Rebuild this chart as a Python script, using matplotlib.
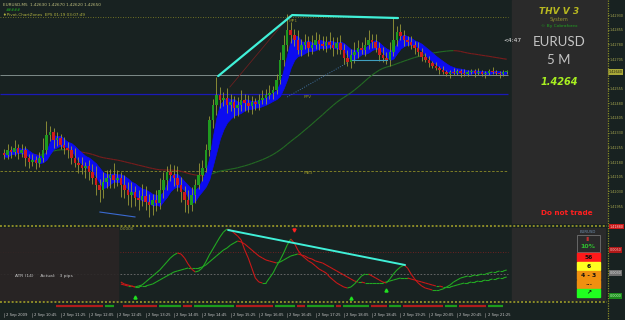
import numpy as np
import pandas as pd
import matplotlib
matplotlib.use("Agg")
import matplotlib.pyplot as plt
from matplotlib.patches import Rectangle
from matplotlib.collections import LineCollection

# ---------------- data ----------------
closes = [1.42217, 1.42242, 1.42232, 1.42252, 1.42227, 1.42242, 1.42201, 1.42181, 1.42191, 1.42176, 1.42201, 1.42242,
          1.42318, 1.42334, 1.42293, 1.42303, 1.42267, 1.42252, 1.42242, 1.42201, 1.42176, 1.42165, 1.42150, 1.42160,
          1.42130, 1.42099, 1.42063, 1.42038, 1.42079, 1.42099, 1.42114, 1.42089, 1.42099, 1.42063, 1.42038, 1.42012,
          1.42028, 1.41997, 1.41987, 1.42007, 1.41977, 1.41961, 1.41987, 1.41972, 1.42038, 1.42089, 1.42130, 1.42114,
          1.42099, 1.42063, 1.42028, 1.41987, 1.41961, 1.42012, 1.42063, 1.42114, 1.42150, 1.42242, 1.42395, 1.42471,
          1.42522, 1.42497, 1.42507, 1.42471, 1.42487, 1.42456, 1.42471, 1.42497, 1.42482, 1.42466, 1.42487, 1.42477,
          1.42497, 1.42507, 1.42522, 1.42533, 1.42548, 1.42599, 1.42701, 1.42777, 1.42854, 1.42829, 1.42803, 1.42752,
          1.42777, 1.42793, 1.42762, 1.42777, 1.42803, 1.42783, 1.42772, 1.42793, 1.42777, 1.42762, 1.42788, 1.42752,
          1.42711, 1.42691, 1.42727, 1.42742, 1.42762, 1.42752, 1.42777, 1.42803, 1.42793, 1.42762, 1.42727, 1.42711,
          1.42701, 1.42742, 1.42803, 1.42844, 1.42823, 1.42803, 1.42793, 1.42777, 1.42762, 1.42742, 1.42716, 1.42701,
          1.42686, 1.42670, 1.42660, 1.42650, 1.42640, 1.42630, 1.42640, 1.42635, 1.42645, 1.42635, 1.42630, 1.42640,
          1.42645, 1.42635, 1.42640, 1.42630, 1.42635, 1.42645, 1.42640, 1.42635, 1.42630, 1.42640, 1.42640]
first_open = 1.42227
wick_up_pips = [2, 3, 2, 4, 2, 3, 2, 2, 3, 2, 3, 6,
                7, 3, 2, 3, 2, 4, 3, 2, 5, 3, 4, 2,
                3, 4, 6, 3, 5, 4, 3, 6, 4, 3, 5, 4,
                5, 3, 4, 6, 5, 4, 3, 5, 6, 4, 3, 4,
                5, 6, 4, 3, 5, 4, 3, 6, 4, 3, 2, 3,
                9, 4, 3, 5, 4, 3, 4, 5, 3, 4, 3, 2,
                3, 4, 3, 4, 2, 3, 4, 5, 8, 4, 3, 5,
                3, 4, 3, 5, 4, 3, 4, 3, 5, 4, 3, 4,
                3, 4, 3, 5, 4, 3, 4, 5, 3, 4, 3, 4,
                3, 5, 11, 3, 4, 3, 2, 3, 2, 3, 2, 2,
                2, 1, 2, 1, 2, 1, 1, 2, 1, 1, 2, 1,
                1, 1, 2, 1, 1, 1, 2, 1, 1, 1, 1]
wick_dn_pips = [2, 2, 3, 2, 3, 2, 4, 3, 2, 3, 2, 2,
                2, 3, 4, 3, 2, 3, 4, 3, 2, 4, 3, 5,
                4, 3, 5, 6, 4, 3, 5, 4, 3, 6, 4, 5,
                6, 4, 5, 3, 4, 6, 5, 4, 3, 4, 5, 3,
                4, 3, 5, 6, 4, 3, 4, 2, 3, 2, 3, 4,
                5, 4, 3, 4, 3, 5, 4, 3, 4, 3, 4, 3,
                3, 2, 3, 2, 3, 2, 2, 3, 3, 4, 3, 2,
                3, 2, 4, 3, 2, 3, 2, 3, 2, 4, 3, 2,
                3, 2, 3, 4, 3, 2, 3, 2, 3, 2, 3, 2,
                2, 3, 2, 3, 2, 3, 2, 2, 3, 2, 2, 1,
                2, 1, 1, 2, 1, 1, 2, 1, 1, 2, 1, 1,
                1, 2, 1, 1, 2, 1, 1, 1, 2, 1, 1]

price_ticks = [1.42930, 1.42855, 1.42780, 1.42705, 1.42555, 1.42480, 1.42405, 1.42330,
               1.42255, 1.42180, 1.42105, 1.42030, 1.41955]
last_price = 1.42640
level_mp1 = 1.42920
level_grey = 1.42624
level_fpv = 1.42527
level_mb3 = 1.42135

trend_main_x = [60.5, 81.4, 111.3]
trend_main_y = [1.42619, 1.42930, 1.42915]
trend_red_x = [63.8, 80.8]
trend_red_y = [1.42563, 1.42930]
trend_blue_low_x = [27.1, 37.0]
trend_blue_low_y = [1.41925, 1.41900]
trend_dot_x = [80.0, 96.9]
trend_dot_y = [1.42512, 1.42686]
trend_hline_x = [98.3, 108.2]
trend_hline_y = [1.42701, 1.42701]

osc_start = 33
osc_fast = [19, 17, 16, 15, 14, 15, 16, 19, 22, 25,
            28, 31, 35, 39, 43, 46, 48, 47, 43, 37,
            32, 29, 30, 33, 39, 46, 52, 58, 64, 69,
            72, 71, 68, 65, 61, 51, 43, 33, 23, 19,
            18, 18, 23, 28, 35, 41, 48, 56, 62, 58,
            51, 46, 43, 40, 38, 35, 32, 30, 28, 24,
            21, 18, 16, 14, 13, 14, 17, 21, 25, 27,
            27, 25, 23, 21, 19, 18, 22, 27, 31, 34,
            36, 33, 27, 22, 18, 15, 13, 12, 11, 11,
            11, 12, 14, 16, 19, 21, 23, 24, 25, 25,
            26, 26, 27, 27, 28, 29, 29, 30, 30, 31]
osc_slow = [17, 16, 15, 15, 14, 14, 15, 15, 16, 17,
            19, 21, 23, 25, 27, 29, 30, 31, 32, 33,
            33, 33, 33, 34, 36, 39, 42, 45, 48, 51,
            53, 56, 58, 60, 59, 57, 54, 51, 48, 45,
            43, 41, 40, 39, 38, 39, 41, 43, 45, 46,
            47, 46, 45, 43, 42, 40, 39, 38, 36, 34,
            32, 30, 28, 26, 24, 22, 20, 19, 19, 18,
            18, 18, 18, 18, 18, 19, 20, 21, 22, 23,
            23, 23, 22, 21, 20, 19, 18, 17, 16, 15,
            15, 14, 14, 14, 15, 16, 17, 18, 18, 19,
            19, 20, 20, 21, 21, 22, 22, 23, 23, 24]
osc_level_hi = 49
osc_level_lo = 27
osc_trend_x = [63.3, 113.3]
osc_trend_y = [71, 36]
arrow_up_x = [37, 98, 108]
arrow_up_y = [4, 3, 11]
arrow_dn_x = [82]
arrow_dn_y = [71]

strip_signal = ([0] * 15 + [-1] * 14 + [1] * 3 + [0] * 2 + [-1] * 10 + [1] * 7 + [-1] * 3 + [1] * 12 +
                [-1] * 11 + [1] * 6 + [-1] * 3 + [1] * 8 + [-1] * 2 + [1] * 8 + [-1] * 5 + [1] * 4 +
                [-1] * 12 + [1] * 4 + [-1] * 8 + [1] * 5 + [0] * 1)

time_tick_bars = [0, 8, 16, 24, 32, 40, 48, 56, 64, 72, 80, 88, 96, 104, 112, 120, 128, 136]
time_labels = ["2 Sep 2009", "2 Sep 10:45", "2 Sep 11:25", "2 Sep 12:05", "2 Sep 12:45", "2 Sep 13:25",
               "2 Sep 14:05", "2 Sep 14:45", "2 Sep 15:25", "2 Sep 16:05", "2 Sep 16:45", "2 Sep 17:25",
               "2 Sep 18:05", "2 Sep 18:45", "2 Sep 19:25", "2 Sep 20:05", "2 Sep 20:45", "2 Sep 21:25"]

# ---------------- style ----------------
BG = "#182221"
PANEL = "#2a2a2a"
OLIVE = "#8c8c28"
LABEL = "#a8a850"
GREEN = "#1f9a1f"
RED = "#d01c1c"
WICK = "#9a9a38"
W, H = 625, 320
FONT = "DejaVu Sans"

fig = plt.figure(figsize=(6.25, 3.2), dpi=100)
fig.patch.set_facecolor(BG)

def rect(px0, py0, px1, py1):
    return [px0 / W, 1 - py1 / H, (px1 - px0) / W, (py1 - py0) / H]

XL = (-1.13, 170.34)

# ---------------- main chart ----------------
ax = fig.add_axes(rect(0, 0, 607, 224))
ax.set_facecolor(BG)
ax.set_xlim(*XL)
ax.set_ylim(1.41864, 1.43007)
for s in ax.spines.values():
    s.set_visible(False)
ax.set_xticks([])
ax.yaxis.tick_right()
ax.set_yticks(price_ticks)
ax.set_yticklabels([f"{v:.5f}" for v in price_ticks])
ax.tick_params(axis="y", labelsize=2.4, colors=LABEL, length=1.2, width=0.5, pad=0.8)

c = np.array(closes)
n = len(c)
idx = np.arange(n)
o = np.r_[first_open, c[:-1]]
hi = np.maximum(o, c) + np.array(wick_up_pips) * 1e-4
lo = np.minimum(o, c) - np.array(wick_dn_pips) * 1e-4

# levels
ax.hlines(level_mp1, XL[0], 142.5, color=OLIVE, lw=0.6, linestyles=(0, (1, 2)), zorder=1)
ax.hlines(level_grey, XL[0], 142.5, color="#7e8c8a", lw=0.7, zorder=1)
ax.hlines(level_fpv, XL[0], 142.5, color="#1a1ab8", lw=0.9, zorder=1)
ax.hlines(level_mb3, XL[0], 142.5, color=OLIVE, lw=0.6, linestyles=(0, (3, 2)), zorder=1)

# slow MA coloured by slope
ma = pd.Series(c).rolling(50, min_periods=1).mean().to_numpy()
segs = [[(i - 1, ma[i - 1]), (i, ma[i])] for i in range(1, n)]
cols = ["#236b23" if ma[i] >= ma[i - 1] else "#7a1c1c" for i in range(1, n)]
ax.add_collection(LineCollection(segs, colors=cols, lw=0.8, zorder=2))

# blue band: fast / slow smoothing of the closes, widened a little by the bar range
e_fast = pd.Series(c).ewm(span=3).mean().shift(1).bfill().to_numpy()
e_slow = pd.Series(c).ewm(span=7).mean().shift(1).bfill().to_numpy()
pad = pd.Series(hi - lo).ewm(span=5).mean().to_numpy() / 6
band_hi = np.maximum(e_fast, e_slow) + pad
band_lo = np.minimum(e_fast, e_slow) - pad
ax.fill_between(idx, band_lo, band_hi, color="#0c0cf0", lw=0.5, edgecolor="#0c0cf0", zorder=3)

# candles
ax.vlines(idx, lo, hi, color=WICK, lw=0.6, zorder=4)
bull = c >= o
body_h = np.maximum(np.abs(c - o), 0.00004)
ax.bar(idx[bull], body_h[bull], bottom=o[bull], width=0.72, color=GREEN, lw=0, zorder=5)
ax.bar(idx[~bull], body_h[~bull], bottom=c[~bull], width=0.72, color=RED, lw=0, zorder=5)

# trend lines
ax.plot(trend_red_x, trend_red_y, color="#6a2020", lw=0.6, zorder=3)
ax.plot(trend_blue_low_x, trend_blue_low_y, color="#3a6ad0", lw=0.8, zorder=3)
ax.plot(trend_dot_x, trend_dot_y, color="#4070a0", lw=0.7, ls=(0, (1, 1.5)), zorder=3)
ax.plot(trend_hline_x, trend_hline_y, color="#40a0c0", lw=0.8, zorder=6)
ax.plot(trend_main_x, trend_main_y, color="#40f0d8", lw=1.6, zorder=7, solid_capstyle="round")

ax.text(80.5, level_mp1 - 0.0001, "MP1", color=OLIVE, fontsize=3.2, family=FONT, va="top", zorder=8)
ax.text(84.5, level_fpv - 0.00003, "FPV", color=OLIVE, fontsize=3.2, family=FONT, va="top", zorder=8)
ax.text(84.5, level_mb3 - 0.00003, "MB3", color=OLIVE, fontsize=3.2, family=FONT, va="top", zorder=8)

# current price tag
ax.text(1.002, last_price, f"{last_price:.5f}", transform=ax.get_yaxis_transform(), fontsize=2.4,
        color="#202010", va="center", ha="left", family=FONT,
        bbox=dict(boxstyle="square,pad=0.25", fc="#a8a838", ec="none"), zorder=9, clip_on=False)

# ---------------- oscillator ----------------
ax2 = fig.add_axes(rect(0, 228, 607, 301))
ax2.set_facecolor(BG)
ax2.set_xlim(*XL)
ax2.set_ylim(0, 73)
for s in ax2.spines.values():
    s.set_visible(False)
ax2.set_xticks([])
ax2.set_yticks([])

ax2.hlines(osc_level_hi, XL[0], 142.5, color="#8a2020", lw=0.6, linestyles=(0, (1, 2)))
ax2.hlines(osc_level_lo, XL[0], 142.5, color="#707070", lw=0.6, linestyles=(0, (2, 2)))

ox = np.arange(osc_start, osc_start + len(osc_fast))
for vals, lw in ((osc_slow, 0.8), (osc_fast, 0.8)):
    v = np.array(vals, dtype=float)
    segs = [[(ox[i - 1], v[i - 1]), (ox[i], v[i])] for i in range(1, len(v))]
    cols = ["#22a822" if v[i] >= v[i - 1] else "#c81818" for i in range(1, len(v))]
    ax2.add_collection(LineCollection(segs, colors=cols, lw=lw, zorder=3))

ax2.plot(osc_trend_x, osc_trend_y, color="#40f0d8", lw=1.4, zorder=5, solid_capstyle="round")
ax2.plot(arrow_up_x, arrow_up_y, ls="none", marker="^", ms=2.2, color="#20e020", zorder=6)
ax2.plot(arrow_dn_x, arrow_dn_y, ls="none", marker="v", ms=2.2, color="#ff2020", zorder=6)

# ---------------- time axis / signal strip ----------------
ax3 = fig.add_axes(rect(0, 302, 607, 320))
ax3.set_facecolor(BG)
ax3.set_xlim(*XL)
ax3.set_ylim(18, 0)
ax3.axis("off")
sig = np.array(strip_signal)
start = 0
for i in range(1, n + 1):
    if i == n or sig[i] != sig[start]:
        if sig[start] != 0:
            ax3.plot([start - 0.35, i - 1 + 0.1], [4.3, 4.3], color=("#1c9c1c" if sig[start] > 0 else "#b01c1c"),
                     lw=1.6, solid_capstyle="butt")
        start = i
for b, t in zip(time_tick_bars, time_labels):
    ax3.plot([b, b], [10.5, 15], color="#909090", lw=0.4)
    ax3.text(b + 0.6, 13, t, color="#c8c8c8", fontsize=2.7, family=FONT, va="center", ha="left")

# ---------------- overlay (panels, borders, texts) ----------------
ov = fig.add_axes([0, 0, 1, 1])
ov.set_xlim(0, W)
ov.set_ylim(H, 0)
ov.axis("off")
ov.patch.set_alpha(0)

ov.add_patch(Rectangle((512, 0), 95, 223, color=PANEL, zorder=1))
ov.add_patch(Rectangle((0, 228), 118, 73, color="#2a2525", zorder=0.5, alpha=0.9))
ov.add_patch(Rectangle((512, 228), 93, 72, color=PANEL, zorder=1))

# borders
for yy in (225.5, 301.5):
    ov.plot([0, 607], [yy, yy], color=OLIVE, lw=1.4, ls=(0, (1, 1)), zorder=3)
ov.plot([607.5, 607.5], [0, 320], color=OLIVE, lw=0.9, ls=(0, (1, 1)), zorder=3)

# top-left info
ov.text(3, 4.5, "EURUSD,M5  1.42630 1.42670 1.42620 1.42650", color="#c0c080", fontsize=3, family=FONT,
        va="center", ha="left", zorder=4)
ov.text(6, 10, "#####", color="#20b020", fontsize=2.6, family=FONT, va="center", ha="left", zorder=4)
ov.text(3, 14.5, "\u2666Pivot-ChartZones  EPS 01:19 03:07:49", color="#b0b040", fontsize=3, family=FONT,
        va="center", ha="left", zorder=4)

# info panel texts
ov.text(559, 11, "THV V 3", color="#b8b820", fontsize=6.5, fontweight="bold", fontstyle="italic",
        family=FONT, ha="center", va="center", zorder=4)
ov.text(559, 19.5, "System", color="#909030", fontsize=3.6, family=FONT, ha="center", va="center", zorder=4)
ov.text(559, 26.5, "\u00a9 By Cobraforex", color="#20a020", fontsize=3.2, family=FONT, ha="center",
        va="center", zorder=4)
ov.text(559, 42, "EURUSD", color="#c4c4c4", fontsize=9.5, family="Lato", ha="center",
        va="center", zorder=4)
ov.text(559, 60, "5 M", color="#c4c4c4", fontsize=9.5, family="Lato", ha="center",
        va="center", zorder=4)
ov.text(559, 82, "1.4264", color="#a8f020", fontsize=7, fontweight="bold", fontstyle="italic", family=FONT,
        ha="center", va="center", zorder=4)
ov.text(567, 213, "Do not trade", color="#ff2020", fontsize=5.2, fontweight="bold", family=FONT,
        ha="center", va="center", zorder=4)
ov.text(503, 40, "<4:47", color="#e8e8e8", fontsize=4.2, family=FONT, ha="left", va="center", zorder=4)

# right axis coloured tags
def tag(y, txt, fc, tc):
    ov.text(609.5, y, txt, color=tc, fontsize=2.4, family=FONT, ha="left", va="center", zorder=5,
            bbox=dict(boxstyle="square,pad=0.2", fc=fc, ec="none"))
tag(226.5, "1.41880", "#c81818", "#ffd0d0")
tag(250, "0.0050", "#b01818", "#ffc0c0")
tag(273, "0.0030", "#707070", "#e0e0e0")
tag(296, "0.0000", "#1c8a1c", "#c0ffc0")

# oscillator texts
ov.text(120, 229.5, "0.0000", color="#a0a040", fontsize=3, family=FONT, ha="left", va="center", zorder=4)
ov.text(15, 276, "ATR (14)     Actual:   3 pips", color="#c8c8c8", fontsize=3.2, family=FONT, ha="left",
        va="center", zorder=4)

# signal box on lower right
ov.text(588, 232, "EURUSD", color="#7090b0", fontsize=2.8, family=FONT, ha="center", va="center", zorder=4)
ov.add_patch(Rectangle((577, 235), 23, 17, fill=False, ec="#808080", lw=0.5, zorder=4))
ov.text(588, 239, "\u2590\u258c", color="#c03030", fontsize=3, family=FONT, ha="center", va="center", zorder=4)
ov.text(588, 247, "10%", color="#30c030", fontsize=4.5, fontweight="bold", family=FONT, ha="center",
        va="center", zorder=4)
boxes = [(253, "#ff1a1a", "56"), (262, "#ffff20", "6"), (271, "#f09010", "4 - 3"),
         (280, "#f09010", "\u00b7\u00b7\u00b7"), (289, "#20ff20", "\u2197")]
for y0, col, txt in boxes:
    ov.add_patch(Rectangle((577, y0), 23, 8.3, color=col, zorder=4))
    ov.text(588.5, y0 + 4.3, txt, color="#101010", fontsize=4.3, fontweight="bold", family=FONT,
            ha="center", va="center", zorder=5)

fig.savefig("out.png", dpi=100, facecolor=BG)
